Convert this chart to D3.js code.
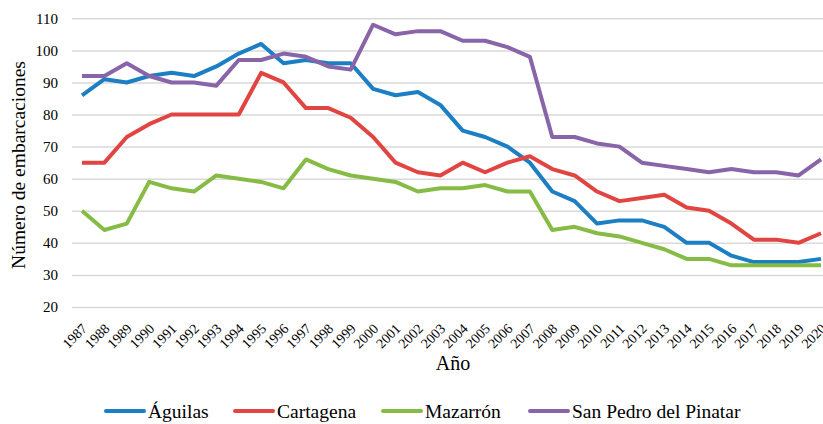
<!DOCTYPE html>
<html>
<head>
  <script src="https://d3js.org/d3.v7.min.js"></script>
</head>
<body style="margin:0">
<script>
  const years = d3.range(1987, 2021).map(String);
  const yTicks = [20, 30, 40, 50, 60, 70, 80, 90, 100, 110];

  const aguilas = [86, 91, 90, 92, 93, 92, 95, 99, 102, 96, 97, 96, 96, 88, 86, 87, 83, 75, 73, 70, 65, 56, 53, 46, 47, 47, 45, 40, 40, 36, 34, 34, 34, 35];
  const cartagena = [65, 65, 73, 77, 80, 80, 80, 80, 93, 90, 82, 82, 79, 73, 65, 62, 61, 65, 62, 65, 67, 63, 61, 56, 53, 54, 55, 51, 50, 46, 41, 41, 40, 43];
  const mazarron = [50, 44, 46, 59, 57, 56, 61, 60, 59, 57, 66, 63, 61, 60, 59, 56, 57, 57, 58, 56, 56, 44, 45, 43, 42, 40, 38, 35, 35, 33, 33, 33, 33, 33];
  const sanPedro = [92, 92, 96, 92, 90, 90, 89, 97, 97, 99, 98, 95, 94, 108, 105, 106, 106, 103, 103, 101, 98, 73, 73, 71, 70, 65, 64, 63, 62, 63, 62, 62, 61, 66];

  const seriesNames = ["Águilas", "Cartagena", "Mazarrón", "San Pedro del Pinatar"];
  const seriesColors = ["#1c7fc3", "#e04541", "#86bc45", "#8864a9"];
  const seriesValues = [aguilas, cartagena, mazarron, sanPedro];

  const width = 823, height = 424;
  const serif = '"Liberation Serif"';

  const svg = d3.select("body").append("svg")
      .attr("width", width)
      .attr("height", height);

  const x = d3.scalePoint().domain(years).range([82, 821]);
  const y = d3.scaleLinear().domain([20, 110]).range([307, 18.3]);

  // horizontal gridlines
  const grid = svg.append("g")
      .attr("transform", "translate(72,0)")
      .call(d3.axisLeft(y).tickValues(yTicks).tickSize(-(width - 72)).tickFormat(""));
  grid.select(".domain").remove();
  grid.selectAll("line")
      .attr("stroke", "#d9d9d9")
      .attr("stroke-width", 1.5);

  // y tick labels
  const yAxis = svg.append("g")
      .attr("transform", "translate(58,0)")
      .call(d3.axisLeft(y).tickValues(yTicks).tickSize(0).tickPadding(0));
  yAxis.select(".domain").remove();
  yAxis.selectAll("text").attr("font-size", 15);

  // x tick labels rotated
  const xAxis = svg.append("g")
      .attr("transform", "translate(0,315)")
      .call(d3.axisBottom(x).tickSize(0).tickPadding(0));
  xAxis.select(".domain").remove();
  xAxis.selectAll("text")
      .attr("font-size", 14)
      .attr("text-anchor", "end")
      .attr("dy", "0.35em")
      .attr("transform", "translate(2,11) rotate(-45)");

  // axis titles
  svg.append("text")
      .attr("transform", "translate(25,165) rotate(-90)")
      .attr("text-anchor", "middle")
      .attr("font-size", 19.5)
      .text("Número de embarcaciones");

  svg.append("text")
      .attr("x", 453)
      .attr("y", 370)
      .attr("text-anchor", "middle")
      .attr("font-size", 20)
      .text("Año");

  // lines
  const line = d3.line()
      .x((d, i) => x(years[i]))
      .y(d => y(d));

  seriesValues.forEach((vals, k) => {
    svg.append("path")
        .datum(vals)
        .attr("fill", "none")
        .attr("stroke", seriesColors[k])
        .attr("stroke-width", 4)
        .attr("stroke-linejoin", "round")
        .attr("d", line);
  });

  // legend
  const legendX = [106, 235, 383, 530];
  seriesNames.forEach((name, k) => {
    const g = svg.append("g").attr("transform", `translate(${legendX[k]},411)`);
    g.append("line")
        .attr("x1", 0).attr("x2", 38)
        .attr("stroke", seriesColors[k])
        .attr("stroke-width", 4)
        .attr("stroke-linecap", "round");
    g.append("text")
        .attr("x", 42)
        .attr("dy", "0.35em")
        .attr("font-size", 19.5)
        .text(name);
  });

  // Times-like font on every text
  svg.selectAll("text")
      .attr("font-family", null)
      .style("font-family", serif)
      .attr("fill", "#000");
  svg.selectAll("g").attr("font-family", null);
</script>
</body>
</html>
